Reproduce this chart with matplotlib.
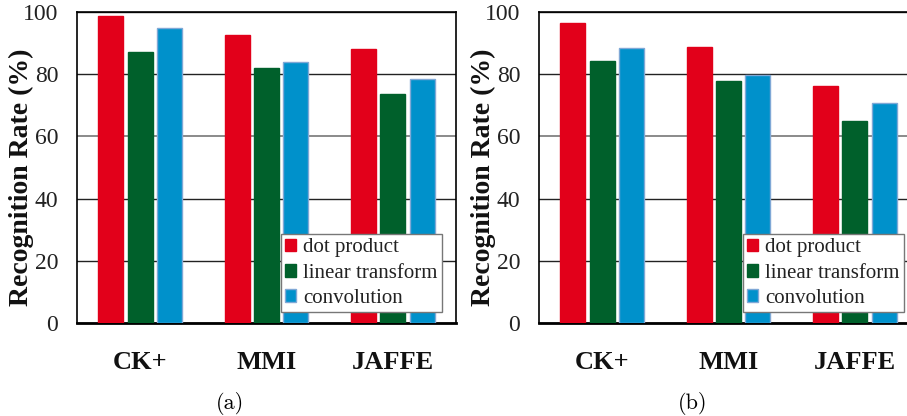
import numpy as np
import matplotlib.pyplot as plt
from matplotlib.patches import Patch

datasets = ['CK+', 'MMI', 'JAFFE']
methods = ['dot product', 'linear transform', 'convolution']

rates_a = {
    'dot product': [98.7, 92.6, 88.1],
    'linear transform': [87.2, 82.0, 73.6],
    'convolution': [94.8, 83.8, 78.4],
}
rates_b = {
    'dot product': [96.5, 88.8, 76.2],
    'linear transform': [84.3, 77.8, 65.0],
    'convolution': [88.5, 79.9, 70.6],
}
captions = ['(a)', '(b)']

colors = {'dot product': '#e2001a', 'linear transform': '#00602b', 'convolution': '#0091cb'}
edges = {'dot product': '#e2001a', 'linear transform': '#00602b', 'convolution': '#7fa8d6'}

plt.rcParams['font.family'] = ['Liberation Serif', 'DejaVu Serif']

W, H = 907, 416
fig = plt.figure(figsize=(W / 100, H / 100), dpi=100)

lefts = [77, 539]
x = np.arange(len(datasets))
width = 0.197
step = 0.232

for k, (rates, cap) in enumerate(zip([rates_a, rates_b], captions)):
    ax = fig.add_axes([lefts[k] / W, (H - 323) / H, 379 / W, 311 / H])
    for i, m in enumerate(methods):
        ax.bar(x + (i - 1) * step, rates[m], width, color=colors[m],
               edgecolor=edges[m], linewidth=1, zorder=3)
    ax.set_xlim(-0.5, 2.5)
    ax.set_ylim(0, 100)
    ax.set_yticks([0, 20, 40, 60, 80, 100])
    ax.grid(axis='y', color='#222222', linewidth=1, zorder=0)
    ax.set_axisbelow(True)
    for gl, t in zip(ax.get_ygridlines(), ax.get_yticks()):
        if t == 60:
            gl.set_color('#8a8a8a')
            gl.set_linewidth(1.4)
    ax.set_xticks(x)
    ax.set_xticklabels(datasets, fontsize=19, fontweight='bold', color='#111111')
    ax.tick_params(axis='x', length=0, pad=20)
    ax.tick_params(axis='y', length=0, pad=13.5, labelsize=17, labelcolor='#222222')
    for s in ('left', 'top', 'right'):
        ax.spines[s].set_linewidth(1.2)
    ax.spines['bottom'].set_linewidth(2)
    ax.set_ylabel('Recognition Rate (%)', fontsize=20, fontweight='bold', color='#111111')
    ax.yaxis.set_label_coords(-0.113, 0.469)

    handles = [Patch(facecolor=colors[m], edgecolor=edges[m]) for m in methods]
    leg = ax.legend(handles, methods, loc='lower right', bbox_to_anchor=(0.963, 0.035),
                    fontsize=15, fancybox=False, framealpha=1, edgecolor='#777777',
                    handlelength=0.55, handleheight=0.55, handletextpad=0.35,
                    labelspacing=0.3, borderpad=0.2, borderaxespad=0)
    leg.get_frame().set_linewidth(1)
    for t in leg.get_texts():
        t.set_color('#222222')

    ax.text(0.405, -0.258, cap, transform=ax.transAxes, ha='center', va='center',
            fontsize=16, family='cmr10')

plt.savefig('out.png', dpi=100)
